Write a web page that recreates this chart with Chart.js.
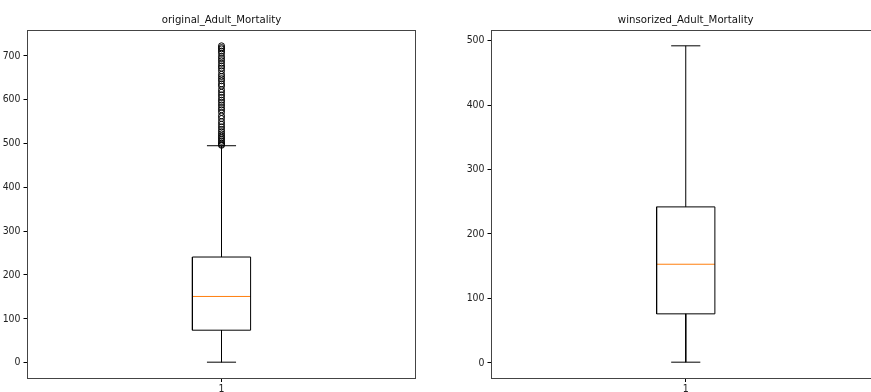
<!DOCTYPE html>
<html>
<head>
<meta charset="utf-8">
<script src="https://cdn.jsdelivr.net/npm/chart.js@4.4.1/dist/chart.umd.min.js"></script>
<style>
    html, body { margin: 0; padding: 0; background: #fff; overflow: hidden; }
    .row { display: flex; width: 880px; height: 392px; }
    canvas { display: block; }
</style>
</head>
<body>
<div class="row">
    <canvas id="left-chart" width="440" height="392"></canvas>
    <canvas id="right-chart" width="440" height="392"></canvas>
</div>
<script>
// data
const titles = ['original_Adult_Mortality', 'winsorized_Adult_Mortality'];
const categories = ['1'];
// whisker low, q1, median, q3, whisker high
const originalStats = [1, 74, 151, 241, 495];
const winsorizedStats = [1, 76, 153, 242, 492];
const originalOutliers = [723, 719, 716, 711, 706, 699, 694, 689, 683, 677, 672, 666, 658, 653, 648, 643, 636, 631, 623, 617, 611, 605, 599, 594, 588, 582, 577, 571, 563, 557, 550, 544, 538, 532, 527, 522, 517, 513, 509, 505, 501, 498, 496];
const winsorizedOutliers = [];
const originalTicks = [0, 100, 200, 300, 400, 500, 600, 700];
const winsorizedTicks = [0, 100, 200, 300, 400, 500];

const BOX_WIDTH = 0.15;
const FONT = "'Liberation Sans Narrow', 'DejaVu Sans Condensed', 'Liberation Sans', sans-serif";

function frameAndTitle(title) {
    return {
        id: 'frameAndTitle',
        afterDraw(chart) {
            const { ctx, chartArea: a } = chart;
            const left = Math.floor(a.left), top = Math.floor(a.top);
            ctx.save();
            ctx.strokeStyle = '#444';
            ctx.lineWidth = 1;
            ctx.strokeRect(left + 0.5, top + 0.5,
                Math.floor(a.right) - left, Math.floor(a.bottom) - top);
            ctx.fillStyle = '#111';
            ctx.font = `11.3px ${FONT}`;
            ctx.textAlign = 'center';
            ctx.textBaseline = 'alphabetic';
            ctx.fillText(title, (a.left + a.right) / 2, a.top - 7);
            ctx.restore();
        }
    };
}

function segment(points, color) {
    return {
        data: points,
        showLine: true,
        borderColor: color,
        borderWidth: 1,
        pointRadius: 0,
        fill: false
    };
}

function boxDatasets(stats, outliers) {
    const [lo, q1, med, q3, hi] = stats;
    const x = 1, h = BOX_WIDTH / 2, c = BOX_WIDTH / 4;
    return [
        segment([{ x, y: q1 }, { x, y: lo }], '#000'),
        segment([{ x, y: q3 }, { x, y: hi }], '#000'),
        segment([{ x: x - c, y: lo }, { x: x + c, y: lo }], '#000'),
        segment([{ x: x - c, y: hi }, { x: x + c, y: hi }], '#000'),
        segment([{ x: x - h, y: q1 }, { x: x + h, y: q1 }, { x: x + h, y: q3 },
                 { x: x - h, y: q3 }, { x: x - h, y: q1 }], '#000'),
        segment([{ x: x - h, y: med }, { x: x + h, y: med }], '#ff7f0e'),
        {
            data: outliers.map(y => ({ x, y })),
            showLine: false,
            pointRadius: 3,
            pointBorderWidth: 1,
            pointBorderColor: '#000',
            pointBackgroundColor: 'rgba(0,0,0,0)'
        }
    ];
}

function renderBox(id, title, stats, outliers, ticks, yWidth, rightPad) {
    const lo = Math.min(stats[0], ...outliers);
    const hi = Math.max(stats[4], ...outliers);
    const margin = (hi - lo) * 0.05;

    return new Chart(document.getElementById(id), {
        type: 'scatter',
        data: { datasets: boxDatasets(stats, outliers) },
        options: {
            responsive: false,
            animation: false,
            layout: { padding: { top: 30, right: rightPad, left: 0, bottom: 0 } },
            plugins: { legend: { display: false }, tooltip: { enabled: false } },
            scales: {
                x: {
                    type: 'linear',
                    min: 0.5,
                    max: 1.5,
                    afterBuildTicks(scale) {
                        scale.ticks = categories.map((_, i) => ({ value: i + 1 }));
                    },
                    afterFit(scale) { scale.height = 14; },
                    border: { display: false },
                    grid: { drawOnChartArea: false, drawTicks: true, tickLength: 4, color: '#000' },
                    ticks: {
                        padding: 1,
                        color: '#222',
                        font: { family: FONT, size: 10.4 },
                        callback: (v) => categories[Math.round(v) - 1] ?? ''
                    }
                },
                y: {
                    min: lo - margin,
                    max: hi + margin,
                    afterBuildTicks(scale) {
                        scale.ticks = ticks.map(v => ({ value: v }));
                    },
                    afterFit(scale) { scale.width = yWidth; },
                    border: { display: false },
                    grid: { drawOnChartArea: false, drawTicks: true, tickLength: 4, color: '#000' },
                    ticks: {
                        padding: 3,
                        color: '#222',
                        font: { family: FONT, size: 10.4 },
                        callback: (v) => String(v)
                    }
                }
            }
        },
        plugins: [frameAndTitle(title)]
    });
}

renderBox('left-chart', titles[0], originalStats, originalOutliers, originalTicks, 27.5, 24.5);
renderBox('right-chart', titles[1], winsorizedStats, winsorizedOutliers, winsorizedTicks, 51.5, 0);
</script>
</body>
</html>
